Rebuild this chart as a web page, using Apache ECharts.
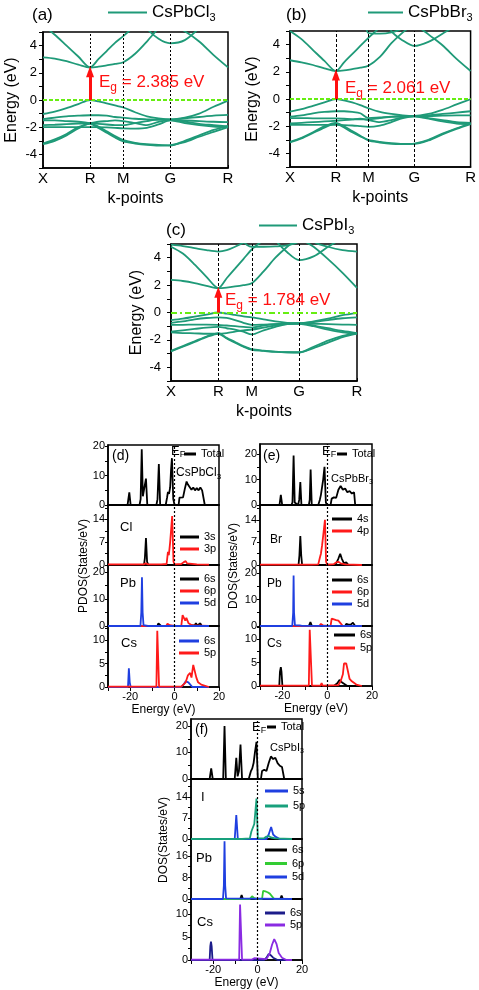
<!DOCTYPE html>
<html><head><meta charset="utf-8">
<script src="https://cdn.jsdelivr.net/npm/echarts@6/dist/echarts.min.js"></script>
<style>html,body{margin:0;padding:0;background:#fff}#c{width:479px;height:990px}</style>
</head><body><div id="c"></div>
<script>
const FONT = 'Liberation Sans, Arial, sans-serif';
const BAND = '#1f9a78';

// ---------- band structure data ----------
const kPath = [0, 0.177, 0.354, 0.530, 0.707, 0.832, 0.957, 1.082, 1.207, 1.384, 1.561, 1.737, 1.914, 2.131, 2.347, 2.564, 2.780];
const kSym = [0, 0.707, 1.207, 1.914, 2.780];
const kLabels = ['X', 'R', 'M', 'G', 'R'];
const energyTicks = [-4, -2, 0, 2, 4];

const bandsCl = [
  [3.14, 3.05, 2.85, 2.6, 2.39, 2.45, 2.55, 2.65, 2.78, 3.4, 4.3, 5.3, 6.2, 7, 7, 7, 7],
  [5.5, 4.8, 4.0, 3.2, 2.39, 3.0, 3.6, 4.2, 4.7, 5.5, 6.5, 7, 7, 7, 7, 7, 7],
  [7, 7, 7, 7, 7, 7, 7, 7, 7, 7, 5.3, 4.5, 4.17, 4.4, 5.3, 6.5, 7],
  [7, 7, 7, 7, 7, 7, 7, 7, 7, 7, 7, 6, 5.6, 5.05, 4.3, 3.3, 2.4],
  [-1.03, -0.85, -0.6, -0.3, 0, -0.1, -0.25, -0.4, -0.55, -0.9, -1.2, -1.35, -1.42, -1.3, -1.0, -0.5, -0.05],
  [-1.4, -1.3, -1.2, -1.15, -1.12, -1.12, -1.15, -1.25, -1.3, -1.38, -1.42, -1.45, -1.45, -1.35, -1.25, -1.15, -1.1],
  [-1.5, -1.5, -1.55, -1.6, -1.7, -1.75, -1.8, -1.85, -1.85, -1.7, -1.55, -1.45, -1.45, -1.5, -1.55, -1.6, -1.62],
  [-1.85, -1.82, -1.78, -1.74, -1.7, -1.6, -1.55, -1.5, -1.55, -1.7, -1.85, -1.6, -1.48, -1.6, -1.75, -1.85, -1.95],
  [-2.0, -2.0, -2.0, -2.0, -2.0, -2.0, -2.02, -2.05, -2.08, -2.1, -2.05, -1.8, -1.5, -1.7, -1.85, -1.95, -2.0],
  [-3.25, -3.0, -2.6, -2.1, -1.72, -1.95, -2.3, -2.65, -2.95, -3.15, -3.25, -3.3, -3.35, -3.0, -2.6, -2.2, -1.9],
  [-3.2, -2.9, -2.5, -2.0, -1.75, -2.05, -2.4, -2.75, -3.05, -3.2, -3.3, -3.35, -3.32, -3.1, -2.7, -2.35, -2.0]
];
const bandsBr = [
  [2.85, 2.7, 2.5, 2.25, 2.06, 2.1, 2.2, 2.3, 2.45, 3.1, 4.1, 4.9, 5.6, 7, 7, 7, 7],
  [5.0, 4.4, 3.6, 2.8, 2.06, 2.7, 3.3, 3.9, 4.5, 5.3, 6.5, 7, 7, 7, 7, 7, 7],
  [7, 7, 7, 7, 7, 7, 7, 7, 4.85, 4.8, 4.9, 5.2, 6, 7, 7, 7, 7],
  [7, 7, 7, 7, 7, 7, 7, 7, 7, 7, 5.0, 4.3, 3.9, 4.2, 4.8, 5.5, 7],
  [7, 7, 7, 7, 7, 7, 7, 7, 7, 7, 7, 7, 5.6, 4.75, 3.95, 2.95, 2.06],
  [-0.93, -0.75, -0.5, -0.25, 0, -0.1, -0.25, -0.45, -0.68, -0.95, -1.1, -1.2, -1.24, -1.1, -0.8, -0.4, -0.02],
  [-1.3, -1.2, -1.05, -0.95, -0.9, -0.9, -0.95, -1.05, -1.4, -1.35, -1.3, -1.27, -1.25, -1.2, -1.1, -1.0, -0.9],
  [-1.4, -1.4, -1.42, -1.42, -1.42, -1.45, -1.5, -1.5, -1.5, -1.4, -1.32, -1.27, -1.25, -1.25, -1.22, -1.2, -1.2],
  [-1.8, -1.75, -1.7, -1.65, -1.6, -1.55, -1.5, -1.45, -1.55, -1.7, -1.55, -1.35, -1.27, -1.4, -1.55, -1.7, -1.75],
  [-1.9, -1.9, -1.9, -1.9, -1.9, -1.92, -1.95, -2.0, -2.05, -1.95, -1.7, -1.4, -1.27, -1.45, -1.65, -1.8, -1.85],
  [-3.2, -2.9, -2.5, -2.1, -1.8, -2.1, -2.45, -2.75, -3.0, -3.15, -3.25, -3.3, -3.3, -3.05, -2.6, -2.2, -1.85],
  [-3.15, -2.85, -2.45, -2.0, -1.75, -2.0, -2.35, -2.7, -3.05, -3.2, -3.3, -3.32, -3.28, -3.0, -2.55, -2.15, -1.8]
];
const bandsI = [
  [2.38, 2.3, 2.15, 1.95, 1.78, 1.82, 1.9, 2.0, 2.13, 3.0, 4.0, 4.8, 5.5, 7, 7, 7, 7],
  [4.8, 4.3, 3.5, 2.6, 1.78, 2.5, 3.2, 3.9, 4.6, 5.3, 6, 7, 7, 7, 7, 7, 7],
  [4.95, 4.85, 4.7, 4.55, 4.45, 4.55, 4.8, 5.1, 5.5, 7, 7, 7, 7, 7, 7, 7, 7],
  [7, 7, 7, 7, 7, 7, 7, 5.2, 4.8, 4.8, 4.82, 4.9, 5.2, 7, 7, 7, 7],
  [7, 7, 7, 7, 7, 7, 7, 7, 7, 7, 5.3, 4.4, 3.83, 4.1, 4.8, 5.5, 7],
  [7, 7, 7, 7, 7, 7, 7, 7, 7, 7, 7, 7, 5.5, 4.8, 3.9, 2.9, 1.8],
  [7, 7, 7, 7, 7, 7, 7, 7, 7, 7, 7, 7, 7, 5.2, 4.8, 4.55, 4.45],
  [-0.56, -0.45, -0.3, -0.15, 0, -0.08, -0.18, -0.28, -0.36, -0.5, -0.65, -0.75, -0.78, -0.65, -0.45, -0.2, -0.05],
  [-0.75, -0.65, -0.5, -0.4, -0.35, -0.4, -0.55, -0.75, -0.9, -0.88, -0.85, -0.82, -0.8, -0.7, -0.55, -0.42, -0.35],
  [-0.9, -0.9, -0.88, -0.88, -0.9, -0.95, -1.0, -1.05, -1.1, -0.95, -0.85, -0.8, -0.8, -0.82, -0.85, -0.88, -0.9],
  [-1.4, -1.3, -1.2, -1.1, -1.05, -1.15, -1.25, -1.4, -1.6, -1.3, -1.05, -0.85, -0.8, -0.95, -1.15, -1.35, -1.5],
  [-1.45, -1.5, -1.52, -1.55, -1.55, -1.5, -1.4, -1.3, -1.25, -1.1, -0.95, -0.85, -0.82, -1.0, -1.25, -1.45, -1.55],
  [-2.84, -2.5, -2.15, -1.8, -1.55, -1.9, -2.2, -2.5, -2.72, -2.8, -2.88, -2.9, -2.9, -2.6, -2.2, -1.8, -1.55],
  [-2.8, -2.45, -2.1, -1.75, -1.5, -1.85, -2.15, -2.45, -2.68, -2.78, -2.85, -2.9, -2.92, -2.5, -2.05, -1.7, -1.5]
];
const gaps = [2.385, 2.061, 1.784];

// ---------- DOS data: [energy (eV), states/eV] ----------
const dTot = [[-30,0],[-21.2,0],[-20.4,4.3],[-19.8,0],[-15.8,0],[-15.3,2],[-14.8,19],[-14.3,3],[-13.7,3.5],[-12.9,9],[-12.3,0],[-8.2,0],[-7.7,2],[-7.1,14],[-6.5,0],[-4,0],[-3.4,2.5],[-3,4.5],[-2.5,3.8],[-2,6],[-1.6,12],[-1.2,16],[-0.6,2],[0,0],[1.8,0],[2.2,2.5],[3,3],[3.8,2.6],[4.6,5.5],[5.4,8],[6,7],[6.8,6.5],[7.6,5.2],[8.4,6],[9.2,5],[10,5.8],[10.8,5],[11.6,6],[12.4,5],[13,5.5],[13.6,0],[20,0]];
const dCl3s = [[-30,0],[-13.8,0],[-13.4,2],[-12.9,8.3],[-12.4,1],[-11.8,0],[20,0]];
const dCl3p = [[-30,0.2],[-14,0.2],[-13,0.5],[-12,0.2],[-7,0.2],[-6.5,0.6],[-6,0.2],[-3.6,0.3],[-3,4],[-2.6,3],[-2,7],[-1.1,15],[-0.5,1],[0,0.2],[3,0.3],[4,0.8],[5,1.2],[5.6,0.5],[6.5,0.4],[10,0.2],[15.5,0.1]];
const dPb6s = [[-30,0],[-7.8,0],[-7.3,1],[-7,1.3],[-6.6,1],[-6.1,0],[6.5,0],[7,0.6],[7.6,0.2],[9,0.2],[9.6,1],[10.2,0.2],[11,0.2],[11.6,1],[12.2,0],[20,0]];
const dPb6p = [[-30,0],[-3.8,0],[-3.2,0.8],[-2.7,1],[-2.2,0.3],[0,0],[3,0],[3.6,4],[4.2,3.5],[4.8,2],[5.3,3],[5.8,2.5],[6.3,1],[7,0.3],[8,0.2],[15.5,0]];
const dPb5d = [[-30,0],[-15.4,0],[-15,5],[-14.7,18],[-14.4,5],[-14,0.3],[-12,0],[15.5,0]];
const dCs6s = [[-30,0],[-21,0],[-20.6,4],[-20.2,1],[-19.8,0],[3,0],[4,0.5],[5,1.2],[5.6,1.5],[6.2,1],[7,0.6],[8,0],[15.5,0]];
const dCs5p = [[-30,0.1],[-8.2,0.1],[-7.8,12],[-7.3,12],[-7,0.1],[-2.5,0.1],[-1.6,0.5],[-0.8,0.1],[3,0.1],[5,1],[6,2.5],[7,3],[7.6,2],[8.4,4.7],[9,4.5],[9.8,2],[10.6,1],[12,0.5],[15.5,0]];

const eTot = [[-30,0],[-21.3,0],[-20.7,4],[-20.1,0],[-16,0],[-15.5,1],[-15,19.5],[-14.5,1],[-13,0],[-12.5,2],[-12,9],[-11.5,0],[-8.2,0],[-7.8,2],[-7.4,14],[-6.9,0],[-4,0],[-3.3,2],[-2.8,4],[-2.3,4.5],[-1.8,10],[-1.2,15],[-0.6,1],[0,0],[1.5,0],[2,2.5],[3,3],[4,2.8],[5,6],[6,7.5],[7,6],[8,6.5],[9,5],[10,5.5],[11,4.5],[12,5],[12.5,0],[20,0]];
const eBr4s = [[-30,0],[-12.8,0],[-12.4,3],[-12,9],[-11.6,3],[-11.2,0],[3,0],[4,0.5],[5,2],[5.8,3.5],[6.5,2],[7.5,0.5],[8.5,0.8],[9.5,0],[20,0]];
const eBr4p = [[-30,0.1],[-8,0.1],[-7.5,0.5],[-7,0.1],[-4,0.2],[-3.2,2.5],[-2.8,3.5],[-2.3,6],[-1.8,9],[-1,14],[-0.5,1],[0,0.1],[3,0.3],[4,0.8],[5,1],[6,0.5],[8,0.2],[15.5,0]];
const ePb6s = [[-30,0],[-8.2,0],[-7.5,1.5],[-6.8,0],[8,0],[8.5,0.8],[9,1],[9.5,0.5],[10.5,0.5],[11.5,1.2],[12,1.3],[12.5,0],[20,0]];
const ePb6p = [[-30,0],[-3.5,0],[-2.8,0.8],[-2.3,1],[-1.8,0.2],[0,0],[1.5,0],[2,2.8],[3,2.5],[4,2.2],[5,2],[6,1],[7,0],[15.5,0]];
const ePb5d = [[-30,0],[-15.6,0],[-15.2,5],[-15,19],[-14.8,5],[-14.4,0.2],[-12.5,0.2],[-12,0.5],[-11.5,0.1],[15.5,0]];
const eCs6s = [[-30,0],[-21.4,0],[-21.1,3],[-20.7,4],[-20.4,3],[-20,0],[3,0],[4.5,0.6],[5.5,1.3],[6.5,0.8],[7,0.5],[9,0],[15.5,0]];
const eCs5p = [[-30,0.1],[-8.2,0.1],[-7.8,12],[-7.2,12],[-6.8,0.1],[-3,0.1],[-2.5,0.6],[-2,0.1],[5,0.2],[6,1],[7,2.5],[7.5,4.8],[8.5,4.8],[9,4.5],[10,1.5],[11,1],[13,0.3],[15.5,0]];

const fTot = [[-30,0],[-21.6,0],[-20.9,4],[-20.2,0],[-15.5,0],[-14.9,20],[-14.3,0],[-10.3,0],[-9.6,8],[-9,1],[-8.4,3],[-7.7,13],[-7,0],[-4,0],[-3,3],[-2.4,4],[-1.8,6],[-1.2,10],[-0.5,14],[0.1,0],[1.5,0],[2,3],[3,3.5],[4,3],[5,6],[6,8.5],[7,7.5],[8,8],[9,6],[10,5],[11,4.5],[12,0],[20,0]];
const fI5s = [[-30,0],[-10.3,0],[-9.6,8],[-8.9,0],[4,0],[5,1.5],[6.1,4],[7,1.5],[8,0.8],[10,0],[15.5,0]];
const fI5p = [[-30,0],[-8.5,0],[-7.7,0.5],[-7,0],[-3.5,0.2],[-2.8,2.5],[-2.2,3],[-1.5,5],[-0.5,13.5],[0.1,0.2],[3,0.3],[4,0.8],[5,1],[6,0.5],[8,0.2],[15.5,0]];
const fPb6s = [[-30,0],[-7.8,0],[-7.2,1.5],[-6.6,0],[5.6,0],[6.2,0.7],[6.8,0],[10.2,0],[10.8,1.3],[11.4,0],[20,0]];
const fPb6p = [[-30,0],[-3.5,0],[-2.5,1],[-1.5,0.3],[0,0],[2,0],[2.5,3],[3.5,2.8],[4.5,2.5],[5.5,2],[6.5,1],[7.5,0],[15.5,0]];
const fPb5d = [[-30,0],[-15.6,0],[-15.2,5],[-14.9,21.5],[-14.6,5],[-14.2,0.2],[15.5,0]];
const fCs6s = [[-30,0],[-21.6,0],[-21.3,3],[-21,4],[-20.7,3],[-20.3,0],[3,0],[4,0.5],[5,1.3],[6,1],[7,0.5],[9,0],[15.5,0]];
const fCs5p = [[-30,0.1],[-8.3,0.1],[-7.9,12],[-7.4,12],[-7,0.1],[-2.5,0.1],[-1.5,0.4],[-0.8,0.1],[4,0.2],[5.5,1.5],[6.5,3.3],[7.5,4.5],[8.5,3.5],[9.5,1.5],[11,0.5],[13,0],[15.5,0]];
const dosTicks = [-20, 0, 20];

// ---------- builders ----------
const grids = [], xAxes = [], yAxes = [], series = [], legends = [], texts = [];
const axisLineStyle = {color: '#000', width: 1.5};

function bandPanel(grid, bands, eg, name, main, sub, o) {
  const idx = grids.length;
  grids.push(Object.assign({show: true, borderColor: '#000', borderWidth: 1.5, backgroundColor: 'transparent'}, grid));
  xAxes.push({type: 'value', gridIndex: idx, min: kSym[0], max: kSym[4],
    axisLine: {onZero: false, lineStyle: axisLineStyle},
    axisTick: {customValues: kSym, inside: true, length: 3, lineStyle: {color: '#000'}},
    axisLabel: {customValues: kSym, color: '#000', fontSize: 15, fontFamily: FONT, margin: 3,
      formatter: v => { const i = kSym.findIndex(k => Math.abs(k - v) < 1e-6); return i >= 0 ? kLabels[i] : ''; }},
    splitLine: {show: false},
    name: 'k-points', nameLocation: 'middle', nameGap: 23,
    nameTextStyle: {fontSize: 16, color: '#000', fontFamily: FONT}});
  yAxes.push({type: 'value', gridIndex: idx, min: -5, max: 5, interval: 1,
    axisLine: {onZero: false, lineStyle: axisLineStyle},
    axisTick: {length: 4, lineStyle: {color: '#000'}},
    axisLabel: {color: '#000', fontSize: 13, fontFamily: FONT, margin: o.margin,
      formatter: v => energyTicks.includes(v) ? String(v) : ''},
    splitLine: {show: false},
    name: 'Energy (eV)', nameLocation: 'middle', nameGap: o.gap,
    nameTextStyle: {fontSize: 16, color: '#000', fontFamily: FONT}});
  series.push({type: 'line', name: name + '-guides', xAxisIndex: idx, yAxisIndex: idx, data: [[kSym[0], 0]],
    showSymbol: false, silent: true, z: 2,
    markLine: {silent: true, symbol: 'none', label: {show: false}, animation: false,
      lineStyle: {color: '#000', type: o.vdash, width: 1},
      data: [{xAxis: kSym[1]}, {xAxis: kSym[2]}, {xAxis: kSym[3]}]}});
  bands.forEach(b => {
    series.push({type: 'line', name: name, xAxisIndex: idx, yAxisIndex: idx,
      data: kPath.map((k, i) => [k, b[i]]), smooth: 0.3, showSymbol: false, silent: true,
      lineStyle: {color: BAND, width: 1.8}, itemStyle: {color: BAND}, z: 3});
  });
  series.push({type: 'line', name: name + '-fermi', xAxisIndex: idx, yAxisIndex: idx, data: [[kSym[0], 0]],
    showSymbol: false, silent: true, z: 4,
    markLine: {silent: true, symbol: 'none', label: {show: false}, animation: false,
      lineStyle: {color: '#66ee11', type: o.fdash, width: 1.8, opacity: 1},
      data: [{yAxis: 0}]}});
  series.push({type: 'line', name: name + '-gap', xAxisIndex: idx, yAxisIndex: idx, data: [[kSym[1], 0]],
    showSymbol: false, silent: true, z: 5,
    markLine: {silent: true, symbol: ['none', 'triangle'], symbolSize: [8, 11], label: {show: false}, animation: false,
      lineStyle: {color: '#ff1010', width: 3, type: 'solid'},
      data: [[{coord: [kSym[1], 0]}, {coord: [kSym[1], eg - 0.3]}]]}});
  legends.push({left: o.legX, top: o.legY, padding: 0, selectedMode: false, icon: 'rect',
    itemWidth: o.legW, itemHeight: 2, data: [name], formatter: () => `{n|${main}}{s|${sub}}`,
    textStyle: {color: '#000', fontFamily: FONT, rich: {
      n: {fontSize: 17, color: '#000', fontFamily: FONT},
      s: {fontSize: 11, color: '#000', fontFamily: FONT, padding: [10, 0, 0, 0]}}}});
  texts.push({type: 'text', x: o.egX, y: o.egY, z: 10, style: {text: `{m|E}{s|g}{m| = ${eg.toFixed(3)} eV}`,
    verticalAlign: 'middle', rich: {
      m: {fontSize: 17, fill: '#ff1010', fontFamily: FONT},
      s: {fontSize: 12, fill: '#ff1010', fontFamily: FONT, padding: [11, 0, 0, 0]}}}});
}

function fmtEvery(every) {
  return v => Math.abs(v / every - Math.round(v / every)) < 1e-6 ? String(Math.round(v)) : '';
}

function dosSub(grid, ymax, yInt, every, curves, bottom, leg) {
  const idx = grids.length;
  grids.push(Object.assign({show: true, borderColor: '#000', borderWidth: 1.5, backgroundColor: 'transparent'}, grid));
  xAxes.push({type: 'value', gridIndex: idx, min: -30, max: 20, interval: 10,
    axisLine: {onZero: false, lineStyle: axisLineStyle},
    axisTick: {show: bottom, length: 4, lineStyle: {color: '#000'}},
    axisLabel: {show: bottom, color: '#000', fontSize: 11, fontFamily: FONT, margin: 4,
      showMinLabel: true, showMaxLabel: true,
      formatter: v => dosTicks.includes(v) ? String(v) : ''},
    splitLine: {show: false},
    name: bottom ? 'Energy (eV)' : '', nameLocation: 'middle', nameGap: 17,
    nameTextStyle: {fontSize: 12, color: '#000', fontFamily: FONT}});
  yAxes.push({type: 'value', gridIndex: idx, min: 0, max: ymax, interval: yInt,
    axisLine: {onZero: false, lineStyle: axisLineStyle},
    axisTick: {length: 3, lineStyle: {color: '#000'}},
    axisLabel: {color: '#000', fontSize: 11, fontFamily: FONT, margin: 3, showMaxLabel: false,
      formatter: fmtEvery(every)},
    splitLine: {show: false}});
  curves.forEach((c, j) => {
    const s = {type: 'line', name: c.name, xAxisIndex: idx, yAxisIndex: idx, data: c.data,
      showSymbol: false, silent: true, lineStyle: {color: c.color, width: 1.8}, itemStyle: {color: c.color}, z: 3};
    if (j === 0) {
      s.markLine = {silent: true, symbol: 'none', label: {show: false}, animation: false,
        lineStyle: {color: '#000', type: [2, 2], width: 1.2}, data: [{xAxis: 0}]};
    }
    series.push(s);
  });
  legends.push({left: leg.x, top: leg.y, orient: 'vertical', padding: 0, itemGap: leg.gap, selectedMode: false,
    icon: 'rect', itemWidth: leg.w, itemHeight: 3, data: curves.map(c => c.name),
    formatter: n => n.split(':')[2],
    textStyle: {color: '#000', fontSize: 11, lineHeight: 12, fontFamily: FONT}});
}

function txt(x, y, text, size) {
  texts.push({type: 'text', x: x, y: y, style: {text: text, fontSize: size, fontFamily: FONT, fill: '#000', verticalAlign: 'middle'}});
}
function subTxt(x, y, main, sub, size, subSize) {
  texts.push({type: 'text', x: x, y: y, style: {text: `{m|${main}}{s|${sub}}`, verticalAlign: 'middle', rich: {
    m: {fontSize: size, fill: '#000', fontFamily: FONT},
    s: {fontSize: subSize, fill: '#000', fontFamily: FONT, padding: [Math.round(size * 0.55), 0, 0, 0]}}}});
}
function vTxt(x, y, text) {
  texts.push({type: 'text', x: x, y: y, rotation: Math.PI / 2,
    style: {text: text, fontSize: 12, fontFamily: FONT, fill: '#000', align: 'center', verticalAlign: 'middle'}});
}

const BLACK = '#000', RED = '#ff1a1a', BLUE = '#1f3fe0', TEAL = '#18a07c', LGREEN = '#33cc33', NAVY = '#1c1c8a', PURPLE = '#8a2be2';

// ---------- band panels ----------
bandPanel({left: 43, top: 32, width: 185, height: 136}, bandsCl, gaps[0], 'CsPbCl3', 'CsPbCl', '3',
  {margin: 6, gap: 23, vdash: [2, 2], fdash: [4, 2], legX: 108, legY: 4, legW: 39, egX: 99, egY: 82});
bandPanel({left: 290, top: 31, width: 182, height: 136}, bandsBr, gaps[1], 'CsPbBr3', 'CsPbBr', '3',
  {margin: 10, gap: 29, vdash: [3, 2], fdash: [4, 2], legX: 368, legY: 4, legW: 35, egX: 345, egY: 88});
bandPanel({left: 171, top: 244, width: 186, height: 137}, bandsI, gaps[2], 'CsPbI3', 'CsPbI', '3',
  {margin: 10, gap: 26, vdash: [3, 2], fdash: [6, 3, 2, 3], legX: 259, legY: 217, legW: 38, egX: 225, egY: 300});
txt(32, 15, '(a)', 17); txt(286, 15, '(b)', 17); txt(166, 230, '(c)', 17);

// ---------- DOS panels ----------
const dL = {left: 108, width: 111};
dosSub(Object.assign({top: 445, height: 60}, dL), 20.5, 5, 10, [{name: 'd:T:Total', data: dTot, color: BLACK}], false, {x: 184, y: 448, w: 12, gap: 0});
dosSub(Object.assign({top: 505, height: 60}, dL), 18.4, 3.5, 7, [{name: 'd:Cl:3s', data: dCl3s, color: BLACK}, {name: 'd:Cl:3p', data: dCl3p, color: RED}], false, {x: 180, y: 531, w: 19, gap: 0});
dosSub(Object.assign({top: 565, height: 61}, dL), 22.5, 5, 10, [{name: 'd:Pb:6s', data: dPb6s, color: BLACK}, {name: 'd:Pb:6p', data: dPb6p, color: RED}, {name: 'd:Pb:5d', data: dPb5d, color: BLUE}], false, {x: 180, y: 573, w: 19, gap: 0});
dosSub(Object.assign({top: 626, height: 61}, dL), 13, 2.5, 5, [{name: 'd:Cs:6s', data: dCs6s, color: BLUE}, {name: 'd:Cs:5p', data: dCs5p, color: RED}], true, {x: 179, y: 635, w: 20, gap: 0});

const eL = {left: 260, width: 112};
dosSub(Object.assign({top: 444, height: 61}, eL), 24, 5, 10, [{name: 'e:T:Total', data: eTot, color: BLACK}], false, {x: 337, y: 448, w: 10, gap: 0});
dosSub(Object.assign({top: 505, height: 60}, eL), 18.6, 3.5, 7, [{name: 'e:Br:4s', data: eBr4s, color: BLACK}, {name: 'e:Br:4p', data: eBr4p, color: RED}], false, {x: 332, y: 513, w: 20, gap: 0});
dosSub(Object.assign({top: 565, height: 61}, eL), 23, 5, 10, [{name: 'e:Pb:6s', data: ePb6s, color: BLACK}, {name: 'e:Pb:6p', data: ePb6p, color: RED}, {name: 'e:Pb:5d', data: ePb5d, color: BLUE}], false, {x: 332, y: 574, w: 20, gap: 0});
dosSub(Object.assign({top: 626, height: 60}, eL), 12.8, 2.5, 5, [{name: 'e:Cs:6s', data: eCs6s, color: BLACK}, {name: 'e:Cs:5p', data: eCs5p, color: RED}], true, {x: 334, y: 629, w: 21, gap: 1});

const fL = {left: 191, width: 111};
dosSub(Object.assign({top: 719, height: 60}, fL), 22.6, 5, 10, [{name: 'f:T:Total', data: fTot, color: BLACK}], false, {x: 267, y: 721, w: 9, gap: 0});
dosSub(Object.assign({top: 779, height: 60}, fL), 20, 3.5, 7, [{name: 'f:I:5s', data: fI5s, color: BLUE}, {name: 'f:I:5p', data: fI5p, color: TEAL}], false, {x: 265, y: 785, w: 23, gap: 3});
dosSub(Object.assign({top: 839, height: 60}, fL), 22.3, 4, 8, [{name: 'f:Pb:6s', data: fPb6s, color: BLACK}, {name: 'f:Pb:6p', data: fPb6p, color: LGREEN}, {name: 'f:Pb:5d', data: fPb5d, color: BLUE}], false, {x: 265, y: 844, w: 22, gap: 1.5});
dosSub(Object.assign({top: 899, height: 62}, fL), 13.2, 2.5, 5, [{name: 'f:Cs:6s', data: fCs6s, color: NAVY}, {name: 'f:Cs:5p', data: fCs5p, color: PURPLE}], true, {x: 265, y: 907, w: 20, gap: 0});

// DOS annotations
txt(112, 456, '(d)', 14); subTxt(171, 451, 'E', 'F', 13, 9); subTxt(176, 473, 'CsPbCl', '3', 12, 8);
txt(120, 527, 'Cl', 13); txt(120, 583, 'Pb', 13); txt(121, 643, 'Cs', 13);
vTxt(84, 566, 'PDOS(States/eV)');

txt(263, 456, '(e)', 14); subTxt(322, 451, 'E', 'F', 13, 9); subTxt(331, 479, 'CsPbBr', '3', 11, 7);
txt(270, 540, 'Br', 12); txt(267, 584, 'Pb', 12); txt(267, 644, 'Cs', 12);
vTxt(234, 566, 'DOS(States/eV)');

txt(195, 730, '(f)', 14); subTxt(252, 727, 'E', 'F', 13, 9); subTxt(270, 748, 'CsPbI', '3', 11, 7);
txt(201, 797, 'I', 13); txt(196, 858, 'Pb', 13); txt(197, 922, 'Cs', 13);
vTxt(164, 840, 'DOS(States/eV)');

const chart = echarts.init(document.getElementById('c'), null, {renderer: 'canvas'});
chart.setOption({
  animation: false,
  backgroundColor: '#fff',
  textStyle: {fontFamily: FONT},
  grid: grids, xAxis: xAxes, yAxis: yAxes, series: series, legend: legends,
  graphic: {elements: texts}
});
</script></body></html>
